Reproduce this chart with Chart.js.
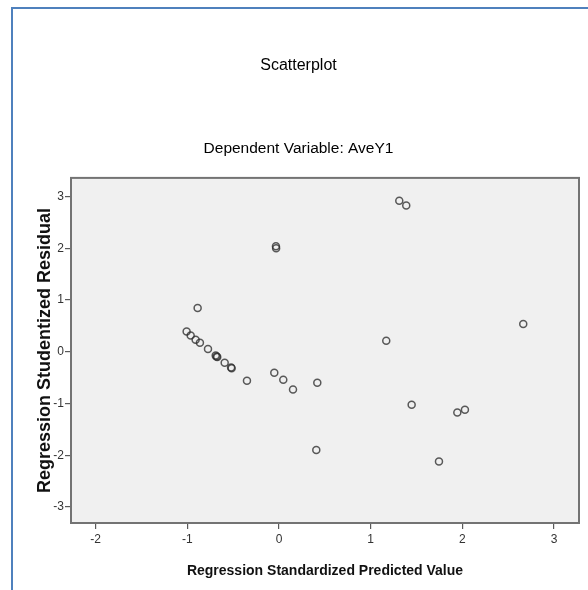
<!DOCTYPE html>
<html>
<head>
<meta charset="utf-8">
<title>Scatterplot</title>
<script src="https://cdn.jsdelivr.net/npm/chart.js@4.4.1/dist/chart.umd.min.js"></script>
<style>
  html, body { margin:0; padding:0; background:#fff; overflow:hidden; }
  .wrap { position:relative; width:588px; height:590px; }
  .frame { position:absolute; left:11px; top:7px; right:-4px; bottom:-4px; border-left:2px solid #4f81bd; border-top:2px solid #4f81bd; pointer-events:none; }
  canvas { position:absolute; left:0; top:0; }
</style>
</head>
<body>
<div class="wrap">
  <canvas id="plot" width="588" height="590"></canvas>
  <div class="frame"></div>
</div>
<script>
const xTicks = [-2, -1, 0, 1, 2, 3];
const yTicks = [-3, -2, -1, 0, 1, 2, 3];

// Regression Standardized Predicted Value
const predicted = [
  -0.887, -1.007, -0.963, -0.909, -0.862, -0.774, -0.690, -0.680, -0.673,
  -0.592, -0.522, -0.516, -0.349, -0.033, -0.031, -0.051, 0.047, 0.153,
  0.418, 0.407, 1.170, 1.312, 1.388, 2.664, 1.447, 1.945, 2.028, 1.745
];
// Regression Studentized Residual
const residual = [
  0.846, 0.393, 0.316, 0.232, 0.174, 0.052, -0.075, -0.090, -0.103,
  -0.213, -0.305, -0.318, -0.561, 2.040, 2.000, -0.406, -0.542, -0.729,
  -0.600, -1.897, 0.213, 2.920, 2.826, 0.536, -1.026, -1.174, -1.123, -2.122
];

// check narrow font exists, else fall back to a smaller regular font
function hasFont(name){
  const c = document.createElement('canvas').getContext('2d');
  const s = 'Regression Standardized 0123';
  c.font = '20px monospace';
  const a = c.measureText(s).width;
  c.font = '20px "' + name + '", monospace';
  return c.measureText(s).width !== a;
}
const narrow = hasFont('Liberation Sans Narrow');
const narrowFamily = narrow ? '"Liberation Sans Narrow", "Liberation Sans", Arial, sans-serif' : '"Liberation Sans", Arial, sans-serif';
const sans = '"Liberation Sans", Arial, sans-serif';

const plotBox = {
  id:'plotBox',
  beforeDatasetsDraw(chart){
    const {ctx, chartArea:a} = chart;
    ctx.save();
    ctx.fillStyle = '#f0f0f0';
    ctx.fillRect(a.left, a.top, a.right - a.left, a.bottom - a.top);
    ctx.restore();
  },
  afterDraw(chart){
    const {ctx, chartArea:a} = chart;
    ctx.save();
    ctx.strokeStyle = '#737373';
    ctx.lineWidth = 2;
    ctx.strokeRect(a.left, a.top, a.right - a.left, a.bottom - a.top);
    ctx.restore();
  }
};

const points = predicted.map((x, i) => ({x, y: residual[i]}));

new Chart(document.getElementById('plot'), {
  type:'scatter',
  data:{
    datasets:[{
      data: points,
      pointStyle:'circle',
      radius:3.5,
      hoverRadius:3.5,
      borderWidth:1.5,
      borderColor:'rgba(45,45,45,0.78)',
      backgroundColor:'rgba(0,0,0,0)'
    }]
  },
  options:{
    responsive:false,
    animation:false,
    events:[],
    layout:{padding:{left:18, right:9, top:0, bottom:0}},
    plugins:{
      legend:{display:false},
      tooltip:{enabled:false},
      title:{
        display:true,
        text:'Scatterplot',
        color:'#000',
        font:{family:sans, size:16, weight:'normal', lineHeight:1.2},
        padding:{top:56.4, bottom:0}
      },
      subtitle:{
        display:true,
        text:'Dependent Variable: AveY1',
        color:'#000',
        font:{family:sans, size:15.5, weight:'normal', lineHeight:1.2},
        padding:{top:64, bottom:19.7}
      }
    },
    scales:{
      x:{
        type:'linear',
        min:-2.268,
        max:3.272,
        afterBuildTicks(scale){ scale.ticks = xTicks.map(v => ({value:v})); },
        afterFit(scale){ scale.height = 67; },
        border:{display:false},
        grid:{drawOnChartArea:false, drawTicks:true, tickLength:6, color:'#5a5a5a', lineWidth:1.2},
        ticks:{color:'#333', padding:3, maxRotation:0, font:{family:narrowFamily, size:narrow ? 13 : 12}},
        title:{
          display:true,
          text:'Regression Standardized Predicted Value',
          color:'#111',
          font:{family:narrowFamily, size:narrow ? 17 : 14, weight:'bold', lineHeight:1.2},
          padding:{top:0, bottom:10.8}
        }
      },
      y:{
        type:'linear',
        min:-3.31,
        max:3.36,
        afterBuildTicks(scale){ scale.ticks = yTicks.map(v => ({value:v})); },
        afterFit(scale){ scale.width = 53; },
        border:{display:false},
        grid:{drawOnChartArea:false, drawTicks:true, tickLength:6, color:'#5a5a5a', lineWidth:1.2},
        ticks:{color:'#333', padding:1, font:{family:narrowFamily, size:narrow ? 13 : 12}},
        title:{
          display:true,
          text:'Regression Studentized Residual',
          color:'#111',
          font:{family:sans, size:18, weight:'bold', lineHeight:1.2},
          padding:{top:16, bottom:0}
        }
      }
    }
  },
  plugins:[plotBox]
});
</script>
</body>
</html>
